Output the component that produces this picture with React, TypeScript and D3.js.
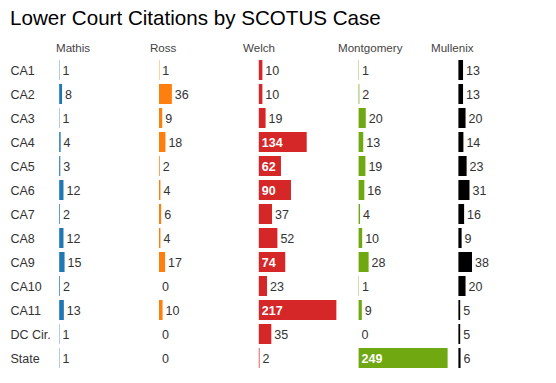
import React from "react";
import * as d3 from "d3";

const rows = ["CA1", "CA2", "CA3", "CA4", "CA5", "CA6", "CA7", "CA8", "CA9", "CA10", "CA11", "DC Cir.", "State"];
const cases = ["Mathis", "Ross", "Welch", "Montgomery", "Mullenix"];
const colors = ["#1f77b4", "#ff7f0e", "#d62728", "#70a812", "#000000"];
const mathis = [1, 8, 1, 4, 3, 12, 2, 12, 15, 2, 13, 1, 1];
const ross = [1, 36, 9, 18, 2, 4, 6, 4, 17, 0, 10, 0, 0];
const welch = [10, 10, 19, 134, 62, 90, 37, 52, 74, 23, 217, 35, 2];
const montgomery = [1, 2, 20, 13, 19, 16, 4, 10, 28, 1, 9, 0, 249];
const mullenix = [13, 13, 20, 14, 23, 31, 16, 9, 38, 20, 5, 5, 6];
const series = [mathis, ross, welch, montgomery, mullenix];

const W = 556;
const H = 383;
const headerX = [56, 150, 243, 338, 431];

export default function App() {
  const x = d3.scaleLinear().domain([0, 249]).range([0, 89]);
  const col = d3.scaleLinear().domain([0, 4]).range([59.2, 458.4]);
  const y = d3.scaleBand().domain(rows).range([58, 58 + 24 * rows.length]).paddingInner(4 / 24).paddingOuter(1 / 12);
  const bh = y.bandwidth();
  const font = "'Liberation Sans', Arial, sans-serif";
  return (
    <svg width={W} height={H} style={{ position: "absolute", left: 0, top: 0, fontFamily: font }}>
      <text x={10} y={25} fontSize={20.6} fill="#000">Lower Court Citations by SCOTUS Case</text>
      {cases.map((c, i) => (
        <text key={c} x={headerX[i]} y={52.3} fontSize={11.6} fill="#444">{c}</text>
      ))}
      {rows.map((r) => (
        <text key={r} x={10.5} y={(y(r) as number) + 14.5} fontSize={12.5} fill="#333">{r}</text>
      ))}
      {series.map((vals, si) => (
        <g key={si} transform={`translate(${col(si)},0)`}>
          {vals.map((v, ri) => {
            const top = y(rows[ri]) as number;
            const w = x(v);
            const inside = v >= 60;
            return (
              <g key={ri}>
                {v > 0 && <rect x={0} y={top} width={w} height={bh} fill={colors[si]} />}
                <text
                  x={inside ? 3 : w + 3}
                  y={top + 14.5}
                  fontSize={12.5}
                  fontWeight={inside ? "bold" : "normal"}
                  fill={inside ? "#fff" : "#333"}
                >
                  {v}
                </text>
              </g>
            );
          })}
        </g>
      ))}
    </svg>
  );
}
